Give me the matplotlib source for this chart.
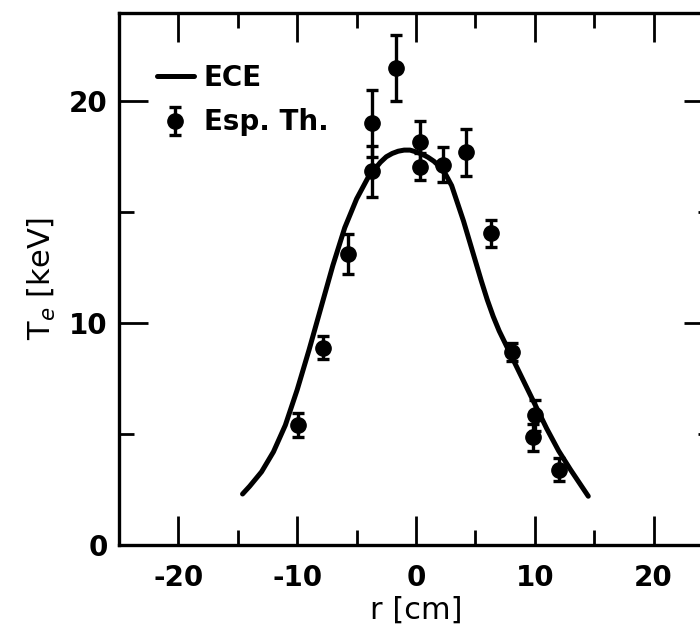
import matplotlib
matplotlib.use('Agg')
import matplotlib.pyplot as plt
from matplotlib.ticker import MultipleLocator

plt.rcParams['axes.unicode_minus'] = False

# ECE profile (r in cm, Te in keV)
ece_r = [-14.6, -14, -13, -12, -11, -10, -9, -8, -7, -6, -5, -4, -3, -2.5,
         -2, -1.5, -1, -0.5, 0, 0.5, 1, 1.5, 2, 2.5, 3, 4, 5, 5.5, 6, 6.5, 7, 8,
         9, 10, 11, 12, 13, 14.5]
ece_te = [2.3, 2.65, 3.3, 4.2, 5.4, 7.0, 8.8, 10.7, 12.6, 14.3, 15.6, 16.6, 17.25, 17.5,
          17.65, 17.75, 17.8, 17.8, 17.72, 17.62, 17.48, 17.3, 17.05, 16.7, 16.2, 14.6, 12.8, 11.9, 11.05, 10.3, 9.65, 8.55,
          7.45, 6.35, 5.25, 4.25, 3.4, 2.2]

# Thomson scattering points with error bars
th_r = [-9.9, -7.8, -5.7, -3.7, -3.7, -1.65, 0.3, 0.3, 2.3, 4.2, 6.3, 8.1, 10.05, 9.85, 12.0]
th_te = [5.4, 8.9, 13.1, 19.0, 16.85, 21.5, 18.15, 17.05, 17.15, 17.7, 14.05, 8.7, 5.85, 4.85, 3.4]
th_err = [0.55, 0.5, 0.9, 1.5, 1.15, 1.5, 0.95, 0.6, 0.8, 1.05, 0.6, 0.4, 0.7, 0.6, 0.5]

x_ticks = [-20, -10, 0, 10, 20]
y_ticks = [0, 10, 20]

fig = plt.figure(figsize=(7, 6.4), dpi=100)
ax = fig.add_axes([0.17, 0.1484, 0.8486, 0.832])

line, = ax.plot(ece_r, ece_te, color='black', lw=3.6, solid_capstyle='round',
                solid_joinstyle='round', label='ECE')
pts = ax.errorbar(th_r, th_te, yerr=th_err, fmt='o', color='black', ms=11,
                  elinewidth=2.4, capsize=4, capthick=2.4, label='Esp. Th.')

ax.set_xlim(-25, 25)
ax.set_ylim(0, 24)
ax.set_xticks(x_ticks)
ax.set_yticks(y_ticks)
ax.xaxis.set_minor_locator(MultipleLocator(5))
ax.yaxis.set_minor_locator(MultipleLocator(5))

ax.tick_params(which='both', direction='in', top=True, right=True, width=2)
ax.tick_params(which='major', length=21)
ax.tick_params(which='minor', length=11)
ax.tick_params(axis='x', which='major', pad=14, labelsize=20)
ax.tick_params(axis='y', which='major', pad=8, labelsize=20)
for lab in ax.get_xticklabels() + ax.get_yticklabels():
    lab.set_fontweight('bold')

for s in ax.spines.values():
    s.set_linewidth(2.4)

ax.set_xlabel('r [cm]', fontsize=22, labelpad=2)
ax.set_ylabel('T$_e$ [keV]', fontsize=22, labelpad=8)

ax.legend(handles=[line, pts], loc='upper left', bbox_to_anchor=(0.04, 0.93),
          frameon=False, prop={'weight': 'bold', 'size': 20},
          handlelength=1.35, handletextpad=0.35, borderpad=0, labelspacing=0.6)

fig.savefig('out.png', dpi=100)
